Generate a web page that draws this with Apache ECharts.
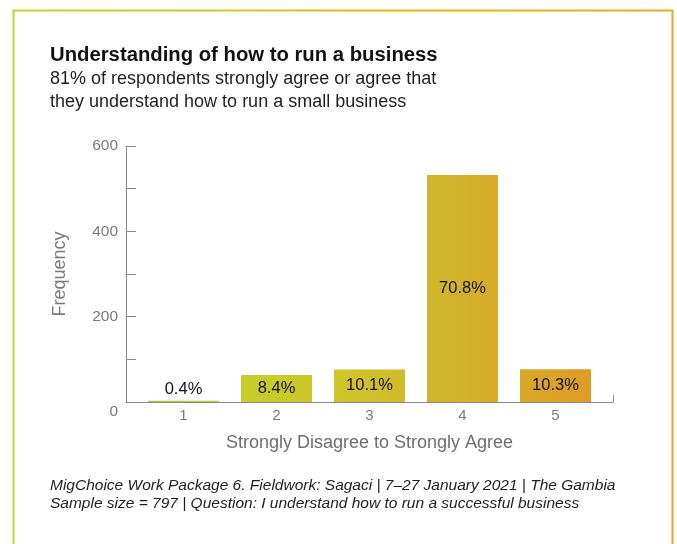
<!DOCTYPE html>
<html>
<head>
<meta charset="utf-8">
<script src="https://cdn.jsdelivr.net/npm/echarts@6/dist/echarts.min.js"></script>
<style>
  html, body { margin: 0; padding: 0; background: #ffffff; }
  #chart { width: 677px; height: 544px; }
</style>
</head>
<body>
<div id="chart"></div>
<script>
// Responses on a 1–5 scale (Strongly Disagree … Strongly Agree)
const categories = ['1', '2', '3', '4', '5'];
const frequencies = [3, 63, 76, 532, 77];
const yTickLabels = [0, 200, 400, 600];

const titleText = 'Understanding of how to run a business';
const subtitleText = '81% of respondents strongly agree or agree that\nthey understand how to run a small business';
const footerText = 'MigChoice Work Package 6. Fieldwork: Sagaci | 7\u201327 January 2021 | The Gambia\nSample size = 797 | Question: I understand how to run a successful business';

const total = frequencies.reduce((a, b) => a + b, 0);
const FONT = '"Liberation Sans", Arial, sans-serif';
const AXIS_GREY = '#8a8a8a';
const TEXT_GREY = '#7a7a7a';

const chart = echarts.init(document.getElementById('chart'), null, { renderer: 'canvas' });

// Horizontal colour ramp shared by all bars (yellow-green to amber)
const barFill = new echarts.graphic.LinearGradient(148, 0, 592, 0, [
  { offset: 0.00, color: '#b9c336' },
  { offset: 0.21, color: '#c6cd2b' },
  { offset: 0.42, color: '#cfc52a' },
  { offset: 0.63, color: '#d0b72a' },
  { offset: 0.84, color: '#d8a829' },
  { offset: 1.00, color: '#df9c26' }
], true);

const option = {
  backgroundColor: '#ffffff',
  animation: false,
  textStyle: { fontFamily: FONT },
  graphic: [{
    type: 'rect',
    silent: true,
    shape: { x: 13.5, y: 10.5, width: 659, height: 620 },
    style: {
      fill: 'none',
      lineWidth: 2,
      stroke: new echarts.graphic.LinearGradient(0, 0, 1, 0, [
        { offset: 0, color: '#c2d62c' },
        { offset: 1, color: '#eaa722' }
      ])
    }
  }],
  title: [
    {
      text: titleText,
      left: 50, top: 45, padding: 0,
      textStyle: { fontFamily: FONT, fontSize: 20.3, fontWeight: 'bold', color: '#111111' }
    },
    {
      text: subtitleText,
      left: 50, top: 68, padding: 0,
      textStyle: { fontFamily: FONT, fontSize: 18, fontWeight: 'normal', color: '#1e1e1e', lineHeight: 23 }
    },
    {
      text: footerText,
      left: 50, top: 476, padding: 0,
      textStyle: { fontFamily: FONT, fontSize: 15.5, fontWeight: 'normal', fontStyle: 'italic', color: '#1e1e1e', lineHeight: 18.5 }
    }
  ],
  grid: [
    // bars
    { left: 137, right: 75, top: 146, bottom: 142, containLabel: false },
    // axis frame
    { left: 126, right: 64, top: 146, bottom: 142, containLabel: false }
  ],
  xAxis: [
    {
      gridIndex: 0,
      type: 'category',
      data: categories,
      axisLine: { show: false },
      axisTick: { show: false },
      axisLabel: { margin: 6, color: TEXT_GREY, fontSize: 15, fontFamily: FONT },
      splitLine: { show: false }
    },
    {
      gridIndex: 1,
      type: 'value',
      min: 0, max: 1, interval: 1,
      name: 'Strongly Disagree to Strongly Agree',
      nameLocation: 'middle',
      nameGap: 32,
      nameTextStyle: { color: '#6e6e6e', fontSize: 18, fontFamily: FONT },
      axisLine: { show: true, lineStyle: { color: AXIS_GREY, width: 1 } },
      axisTick: { show: true, inside: true, length: 7, lineStyle: { color: AXIS_GREY } },
      axisLabel: { show: false },
      splitLine: { show: false }
    }
  ],
  yAxis: [
    {
      gridIndex: 0,
      type: 'value',
      min: 0, max: 600, interval: 100,
      show: false
    },
    {
      gridIndex: 1,
      type: 'value',
      min: 0, max: 600, interval: 100,
      name: 'Frequency',
      nameLocation: 'middle',
      nameGap: 57,
      nameTextStyle: { color: '#7a7a7a', fontSize: 18, fontFamily: FONT },
      axisLine: { show: true, lineStyle: { color: AXIS_GREY, width: 1 } },
      axisTick: { show: true, inside: true, length: 10, lineStyle: { color: AXIS_GREY } },
      axisLabel: {
        margin: 8,
        color: TEXT_GREY,
        fontSize: 15.5,
        fontFamily: FONT,
        formatter: v => {
          if (!yTickLabels.includes(v)) return '';
          return v === 0 ? '{zero|0}' : String(v);
        },
        rich: {
          zero: { color: TEXT_GREY, fontSize: 15.5, fontFamily: FONT, padding: [20, 0, 0, 0] }
        }
      },
      splitLine: { show: false }
    }
  ],
  series: [{
    type: 'bar',
    xAxisIndex: 0,
    yAxisIndex: 0,
    barWidth: 71,
    data: frequencies.map(v => ({
      value: v,
      label: { position: v < 20 ? 'top' : 'inside', distance: 3 }
    })),
    itemStyle: { color: barFill },
    label: {
      show: true,
      color: '#111111',
      fontSize: 16.5,
      fontFamily: FONT,
      formatter: p => (p.value / total * 100).toFixed(1) + '%'
    }
  }]
};

chart.setOption(option);
</script>
</body>
</html>
